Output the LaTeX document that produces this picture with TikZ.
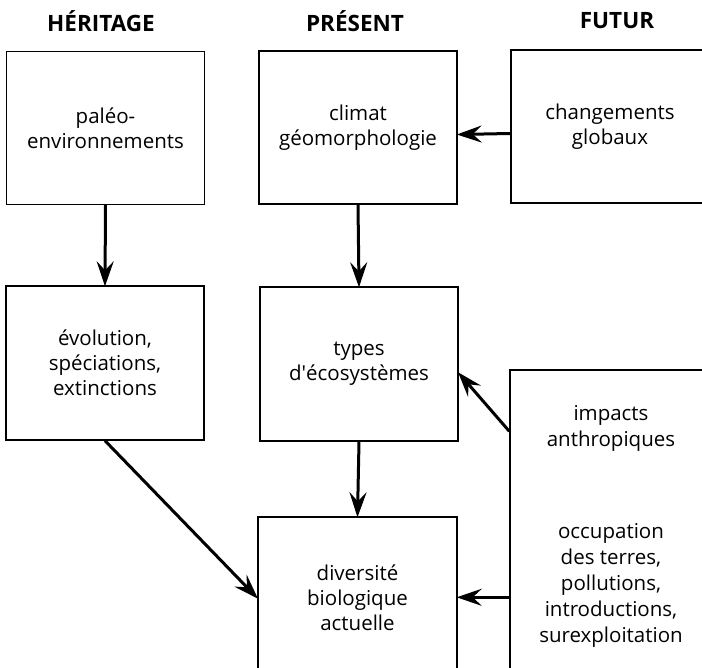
\documentclass[tikz,border=0pt]{standalone}
\usepackage{fontspec}
\setmainfont{Open Sans}
\usetikzlibrary{arrows.meta,calc}

\tikzset{
  box/.style={draw, line width=1.4pt, minimum width=198pt, minimum height=153pt,
              inner sep=0pt, align=center, font=\fontsize{20.5}{25}\selectfont},
  txt/.style={align=center, inner sep=0pt, font=\fontsize{20.5}{26}\selectfont},
  title/.style={inner sep=0pt, font=\fontsize{22.5}{26}\selectfont\bfseries},
  flow/.style={line width=3pt, -{Stealth[length=25pt,width=17pt,inset=9pt]}, shorten >=-1pt}
}

\begin{document}
\begin{tikzpicture}[x=1pt,y=-1pt]
  \useasboundingbox (0,0) rectangle (702,668);
  \clip (0,0) rectangle (702,668);

  % column headings
  \node[title] (hHer) at (101,21) {HÉRITAGE};
  \node[title] (hPre) at (355,21) {PRÉSENT};
  \node[title] (hFut) at (617,21) {FUTUR};

  % boxes
  \node[box] (b1) at (105.5,128) {paléo-\\environnements};
  \node[box] (b2) at (358,127.5) {climat\\géomorphologie};
  \node[box] (b3) at (610,126.5) {changements\\globaux};
  \node[box, minimum height=154pt] (b4) at (105,363) {évolution,\\spéciations,\\extinctions};
  \node[box, minimum height=154pt] (b5) at (359,364) {types\\d\textquotesingle écosystèmes};
  \node[box, minimum width=202pt, minimum height=340pt] (b6) at (611,540) {};
  \node[box, minimum width=199pt, minimum height=162pt] (b7) at (357.5,598) {diversité\\biologique\\actuelle};

  % text of the human-impact box
  \node[txt] (t6a) at (611,428) {impacts\\anthropiques};
  \node[txt] (t6b) at (611,585) {occupation\\des terres,\\pollutions,\\introductions,\\surexploitation};

  % departure points on the left side of the impact box
  \coordinate (s6a) at ($(b6.north west)+(0,62)$);
  \coordinate (s6b) at ($(b6.north west)+(0,228)$);

  % connectors
  \draw[flow] (b1.south) -- (b4.north);
  \draw[flow] (b2.south) -- (b5.north);
  \draw[flow] ($(b3.west)+(0,7)$) -- ($(b2.east)+(0,7)$);
  \draw[flow] (b5.south) -- (b7.north);
  \draw[flow] (b4.south) -- (b7.west);
  \draw[flow] (s6a) -- ($(b5.east)+(0,9)$);
  \draw[flow] (s6b) -- (s6b -| b7.east);
\end{tikzpicture}
\end{document}
